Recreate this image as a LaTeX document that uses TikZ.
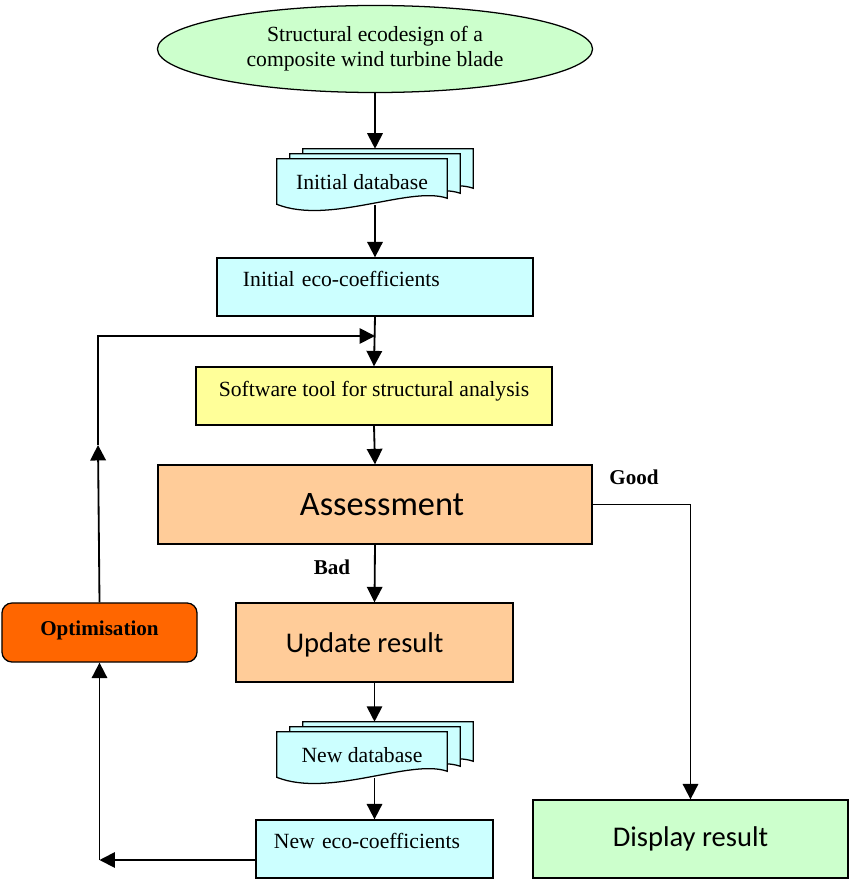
\documentclass[tikz,border=0pt]{standalone}
\usepackage{fontspec}
\setmainfont{Liberation Serif}
\newfontfamily\calibri{Carlito}
\usetikzlibrary{arrows.meta,calc,positioning,shapes.geometric,backgrounds}

\definecolor{palegreen}{HTML}{CCFFCC}
\definecolor{palecyan}{HTML}{CCFFFF}
\definecolor{paleyellow}{HTML}{FFFF99}
\definecolor{paleorange}{HTML}{FFCC99}
\definecolor{deeporange}{HTML}{FF6600}

% one sheet of a document stack, drawn behind node #1, shifted by (#2,#3)
\newcommand{\docsheet}[3]{%
  \path[sheet] ($(#1.north west)+(#2,#3)$) -- ($(#1.north east)+(#2,#3)$)
    -- ($(#1.south east)+(#2,#3-7)$)
    .. controls ($(#1.south east)+(#2-37,#3-20)$) and ($(#1.south west)+(#2+53,#3+20)$) .. ($(#1.south west)+(#2,#3-1)$)
    -- cycle;}
\newcommand{\docstack}[1]{%
  \begin{scope}[on background layer]
    \docsheet{#1}{26}{-10}
    \docsheet{#1}{13}{-5}
    \docsheet{#1}{0}{0}
  \end{scope}}

\begin{document}
\begin{tikzpicture}[x=0.025cm, y=-0.025cm,
    font=\fontsize{15.4}{18}\selectfont,
    box/.style={draw, line width=0.9pt, rectangle, inner sep=2pt},
    bigbox/.style={box, font=\calibri\fontsize{20.3}{24}\selectfont},
    docnode/.style={minimum width=4.25cm, minimum height=1.15cm, inner sep=0pt},
    sheet/.style={draw, line width=0.9pt, fill=palecyan},
    arr/.style={-{Triangle[width=11pt,length=11pt]}, line width=1.3pt},
    tag/.style={font=\bfseries\fontsize{15}{18}\selectfont}]
    \useasboundingbox (0,0) rectangle (850,880);

    % main column
    \node[ellipse, draw, line width=0.9pt, fill=palegreen, minimum width=10.875cm, minimum height=2.175cm,
          inner sep=0pt, align=center] (title) at (375,49) {Structural ecodesign of a\\composite wind turbine blade};
    \node[docnode] (initdb) at (362,182) {Initial database};
    \docstack{initdb}
    \node[box, fill=palecyan, text width=6.6cm, inner xsep=0.65cm, minimum height=1.45cm, text depth=12pt, align=left]
          (ecoinit) at (375,287) {Initial eco-coefficients};
    \node[box, fill=paleyellow, minimum width=8.9cm, minimum height=1.45cm, text depth=10pt] (soft) at (374,396) {Software tool for structural analysis};
    \node[bigbox, fill=paleorange, minimum width=10.85cm, minimum height=1.975cm,
          font=\calibri\fontsize{24.4}{28}\selectfont] (assess) at (375,504.5) {\kern10pt Assessment};
    \node[bigbox, fill=paleorange, minimum width=6.925cm, minimum height=1.975cm, text height=18pt] (update) at (374.5,642.5) {Update result\kern14pt};
    \node[docnode] (newdb) at (362,755) {New database};
    \docstack{newdb}
    \node[box, fill=palecyan, text width=5.025cm, inner xsep=0.45cm, minimum height=1.45cm, text depth=12pt, align=left]
          (econew) at (374.5,849) {New eco-coefficients};

    % side boxes
    \node[bigbox, fill=palegreen, minimum width=7.875cm, minimum height=1.95cm] (display) at (690.5,839) {Display result};
    \node[box, fill=deeporange, rounded corners=0.25cm, minimum width=4.875cm, minimum height=1.475cm, tag, text depth=6pt] (opt) at (99.5,632.5) {Optimisation};

    % forward arrows
    \draw[arr] (title.south) -- ($(initdb.north -| title.south)+(0,-10)$);
    \draw[arr] (initdb.south -| ecoinit.north) -- (ecoinit.north);
    \draw[arr] (ecoinit.south) -- (soft.north);
    \draw[arr] (soft.south) -- (assess.north);
    \draw[arr] (assess.south) -- (update.north);
    \draw[arr] (update.south) -- ($(newdb.north -| update.south)+(0,-10)$);
    \draw[arr] (newdb.south -| econew.north) -- (econew.north);
    \draw[arr] (assess.east) -| (display.north);
    \node[tag] (good) at (634,477) {Good};
    \node[tag] (bad) at (332,567) {Bad};

    % feedback loop
    \coordinate (loopin) at ($(econew.west)+(0,11)$);
    \coordinate (loopcorner) at (opt.south |- loopin);
    \coordinate (loopmid) at (98,445);
    \coordinate (looptop) at (98,336);
    \coordinate (loopjoin) at (375,336);
    \draw[arr] (loopin) -- (loopcorner);
    \draw[arr] (loopcorner) -- (opt.south);
    \draw[arr] (opt.north) -- (loopmid);
    \draw[arr] (loopmid) -- (looptop) -- (loopjoin);
\end{tikzpicture}
\end{document}
